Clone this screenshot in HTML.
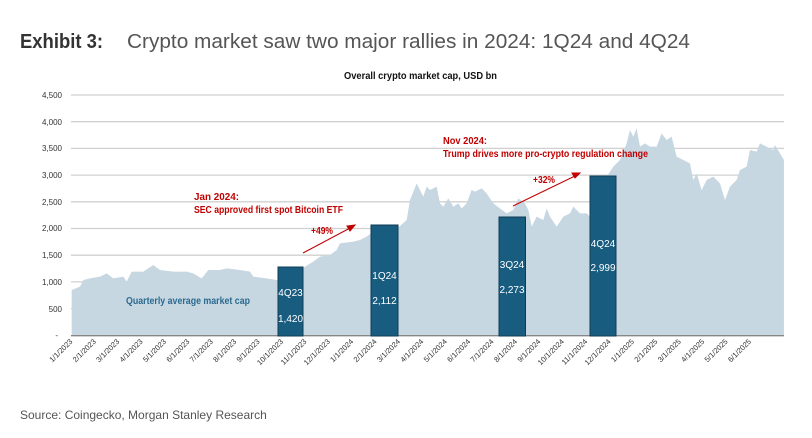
<!DOCTYPE html>
<html><head><meta charset="utf-8"><style>
body{margin:0;background:#fff;width:812px;height:438px;overflow:hidden;font-family:"Liberation Sans",sans-serif}
</style></head><body>
<svg width="812" height="438" xmlns="http://www.w3.org/2000/svg" style="position:absolute;left:0;top:0">
<text x="20" y="48" font-size="20" font-weight="bold" fill="#333" textLength="83" lengthAdjust="spacingAndGlyphs">Exhibit 3:</text>
<text x="127" y="48" font-size="20" fill="#555" textLength="563" lengthAdjust="spacingAndGlyphs">Crypto market saw two major rallies in 2024: 1Q24 and 4Q24</text>
<text x="344" y="79" font-size="10" font-weight="bold" fill="#111" textLength="153" lengthAdjust="spacingAndGlyphs">Overall crypto market cap, USD bn</text>
<g stroke="#d0d0d0" stroke-width="1.3">
<line x1="71" x2="784" y1="95.0" y2="95.0"/><line x1="71" x2="784" y1="121.7" y2="121.7"/><line x1="71" x2="784" y1="148.4" y2="148.4"/><line x1="71" x2="784" y1="175.1" y2="175.1"/><line x1="71" x2="784" y1="201.8" y2="201.8"/><line x1="71" x2="784" y1="228.5" y2="228.5"/><line x1="71" x2="784" y1="255.2" y2="255.2"/><line x1="71" x2="784" y1="281.9" y2="281.9"/><line x1="71" x2="784" y1="308.6" y2="308.6"/>
</g>
<g fill="#c7d7e1">
<path transform="translate(0,80) scale(0.3333)" d="M215,767 L215,630 240,620 250,600 270,595 300,590 320,580 340,595 370,590 380,605 395,575 430,575 460,555 480,570 520,575 560,575 580,580 605,595 625,570 660,570 680,565 720,570 750,575 760,590 800,595 830,600 870,595 915,560 940,545 960,530 990,525 1010,510 1020,490 1060,485 1080,480 1100,470 1120,455 1160,450 1200,440 1203,767 Z"/>
<path transform="translate(400,80) scale(0.3333)" d="M-2,767 L-2,440 20,420 30,360 50,310 60,330 70,350 80,320 90,330 110,320 120,370 130,380 145,355 160,380 175,370 185,385 200,370 215,330 225,335 245,325 260,340 280,370 300,385 320,400 340,390 355,355 375,370 385,390 395,440 410,410 430,420 440,385 450,410 470,440 490,410 510,400 520,380 540,400 560,400 570,410 590,390 600,300 620,290 640,260 660,240 680,190 690,150 700,170 710,145 720,200 735,190 750,200 770,200 785,160 800,180 815,170 830,230 850,240 870,250 880,300 890,280 905,330 920,300 940,290 960,310 975,360 990,320 1010,300 1020,270 1040,260 1050,210 1070,215 1080,190 1100,200 1120,210 1125,195 1140,220 1152,240 1152,767 Z"/>
</g>
<line x1="71" x2="784" y1="335.7" y2="335.7" stroke="#888" stroke-width="1.3"/>
<g font-size="8" fill="#333" text-anchor="end">
<text x="62" y="98">4,500</text><text x="62" y="125">4,000</text><text x="62" y="151">3,500</text><text x="62" y="178">3,000</text><text x="62" y="205">2,500</text><text x="62" y="231">2,000</text><text x="62" y="258">1,500</text><text x="62" y="285">1,000</text><text x="62" y="312">500</text><text x="58" y="338">-</text>
</g>
<g fill="#185d80" stroke="#0f3c55" stroke-width="1">
<rect x="278" y="267" width="25" height="69"/>
<rect x="371" y="225" width="27" height="111"/>
<rect x="499" y="217" width="26.5" height="119"/>
<rect x="590" y="176" width="26" height="160"/>
</g>
<g fill="#fff" font-size="10" text-anchor="middle">
<text x="290.5" y="296">4Q23</text><text x="290.5" y="322">1,420</text>
<text x="384.5" y="279">1Q24</text><text x="384.5" y="304">2,112</text>
<text x="512" y="268">3Q24</text><text x="512" y="293">2,273</text>
<text x="603" y="247">4Q24</text><text x="603" y="271">2,999</text>
</g>
<text x="126" y="304" font-size="10" font-weight="bold" fill="#2a6a90" textLength="124" lengthAdjust="spacingAndGlyphs">Quarterly average market cap</text>
<g fill="#c00000" font-size="10" font-weight="bold">
<text x="194" y="200" textLength="45" lengthAdjust="spacingAndGlyphs">Jan 2024:</text><text x="194" y="213" textLength="149" lengthAdjust="spacingAndGlyphs">SEC approved first spot Bitcoin ETF</text>
<text x="443" y="144" textLength="44" lengthAdjust="spacingAndGlyphs">Nov 2024:</text><text x="443" y="157" textLength="205" lengthAdjust="spacingAndGlyphs">Trump drives more pro-crypto regulation change</text>
<text x="311" y="234" textLength="22" lengthAdjust="spacingAndGlyphs">+49%</text><text x="533" y="183" textLength="22" lengthAdjust="spacingAndGlyphs">+32%</text>
</g>
<g stroke="#c00000" stroke-width="1" fill="#c00000">
<line x1="303" y1="253" x2="352" y2="227"/><polygon points="355,225 347,226 350,231"/>
<line x1="513" y1="206" x2="577" y2="175"/><polygon points="580,173 572,173 575,178"/>
</g>
<g font-size="7.5" fill="#333" text-anchor="end">
<text transform="translate(73,342) rotate(-45)">1/1/2023</text>
<text transform="translate(96.4,342) rotate(-45)">2/1/2023</text>
<text transform="translate(119.8,342) rotate(-45)">3/1/2023</text>
<text transform="translate(143.2,342) rotate(-45)">4/1/2023</text>
<text transform="translate(166.6,342) rotate(-45)">5/1/2023</text>
<text transform="translate(190,342) rotate(-45)">6/1/2023</text>
<text transform="translate(213.4,342) rotate(-45)">7/1/2023</text>
<text transform="translate(236.8,342) rotate(-45)">8/1/2023</text>
<text transform="translate(260.2,342) rotate(-45)">9/1/2023</text>
<text transform="translate(283.6,342) rotate(-45)">10/1/2023</text>
<text transform="translate(307,342) rotate(-45)">11/1/2023</text>
<text transform="translate(330.4,342) rotate(-45)">12/1/2023</text>
<text transform="translate(353.8,342) rotate(-45)">1/1/2024</text>
<text transform="translate(377.2,342) rotate(-45)">2/1/2024</text>
<text transform="translate(400.6,342) rotate(-45)">3/1/2024</text>
<text transform="translate(424,342) rotate(-45)">4/1/2024</text>
<text transform="translate(447.4,342) rotate(-45)">5/1/2024</text>
<text transform="translate(470.8,342) rotate(-45)">6/1/2024</text>
<text transform="translate(494.2,342) rotate(-45)">7/1/2024</text>
<text transform="translate(517.6,342) rotate(-45)">8/1/2024</text>
<text transform="translate(541,342) rotate(-45)">9/1/2024</text>
<text transform="translate(564.4,342) rotate(-45)">10/1/2024</text>
<text transform="translate(587.8,342) rotate(-45)">11/1/2024</text>
<text transform="translate(611.2,342) rotate(-45)">12/1/2024</text>
<text transform="translate(634.6,342) rotate(-45)">1/1/2025</text>
<text transform="translate(658,342) rotate(-45)">2/1/2025</text>
<text transform="translate(681.4,342) rotate(-45)">3/1/2025</text>
<text transform="translate(704.8,342) rotate(-45)">4/1/2025</text>
<text transform="translate(728.2,342) rotate(-45)">5/1/2025</text>
<text transform="translate(751.6,342) rotate(-45)">6/1/2025</text>
</g>
<text x="20" y="419" font-size="12" fill="#555">Source: Coingecko, Morgan Stanley Research</text>
</svg>
</body></html>
